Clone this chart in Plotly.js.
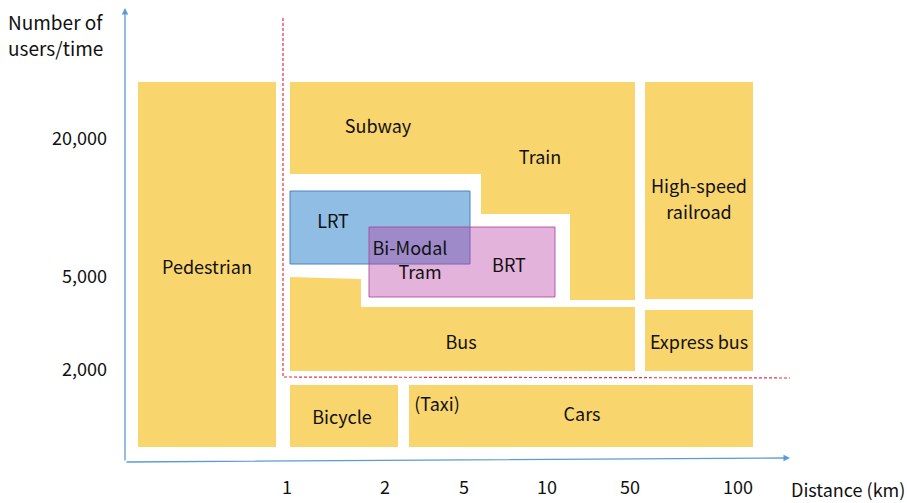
<!DOCTYPE html>
<html><head><meta charset="utf-8">
<script src="https://cdn.plot.ly/plotly-3.0.1.min.js"></script>
<style>html,body{margin:0;padding:0;background:#fff}#chart{width:907px;height:503px}</style>
</head><body><div id="chart"></div>
<script>
// Axis tick categories and their positions on the diagram scale
const distanceLabels = ['1', '2', '5', '10', '50', '100'];
const distancePos = [287, 385, 464, 547, 630, 738];
const userLabels = ['20,000', '5,000', '2,000'];
const userPos = [139, 277, 370];

// Transport mode regions (diagram scale)
const modeNames = ['Pedestrian', 'Subway/Train', 'High-speed railroad', 'Bus', 'Express bus', 'Bicycle', 'Cars'];
const modeX = [
  [138, 276, 276, 138],
  [290, 635, 635, 570, 570, 481, 481, 290],
  [645, 753, 753, 645],
  [290, 361, 361, 635, 635, 290],
  [645, 753, 753, 645],
  [290, 398, 398, 290],
  [409, 753, 753, 409]
];
const modeY = [
  [82, 82, 447, 447],
  [82, 82, 300, 300, 214, 214, 174, 174],
  [82, 82, 299, 299],
  [277, 279, 307, 307, 371, 371],
  [310, 310, 371, 371],
  [385, 385, 447, 447],
  [385, 385, 447, 447]
];
const lrtX = [290, 470, 470, 290];
const lrtY = [191, 191, 264, 264];
const brtX = [369, 555, 555, 369];
const brtY = [227, 227, 297, 297];

// Labels (one entry per text line)
const labelText = ['Pedestrian', 'Subway', 'Train', 'High-speed', 'railroad', 'LRT', 'Bi-Modal', 'Tram', 'BRT', 'Bus', 'Express bus', 'Bicycle', '(Taxi)', 'Cars'];
const labelX = [207, 378, 540, 699, 699, 333, 410, 420, 509, 461, 699, 342, 437, 582];
const labelY = [269, 128, 159, 188, 214, 223, 250, 274, 267, 344, 344, 419, 406, 416];

// Threshold (dashed) lines
const thresholdX = [283, 283, 790];
const thresholdY = [18, 377, 378];

const FONT = 'Noto Sans CJK KR, Noto Sans, sans-serif';
const FS = 18;
const traces = [];
modeNames.forEach((n, i) => {
  traces.push({
    type: 'scatter', mode: 'lines', x: modeX[i].concat([modeX[i][0]]), y: modeY[i].concat([modeY[i][0]]),
    fill: 'toself', fillcolor: '#F9D56E', line: {width: 0, color: '#F9D56E'}, name: n, hoverinfo: 'name'
  });
});
traces.push({type: 'scatter', mode: 'lines', x: lrtX.concat([lrtX[0]]), y: lrtY.concat([lrtY[0]]),
  fill: 'toself', fillcolor: 'rgb(143,189,227)', line: {width: 1, color: 'rgb(80,130,190)'}, name: 'LRT', hoverinfo: 'name'});
traces.push({type: 'scatter', mode: 'lines', x: brtX.concat([brtX[0]]), y: brtY.concat([brtY[0]]),
  fill: 'toself', fillcolor: 'rgba(185,55,160,0.38)', line: {width: 1, color: 'rgba(170,60,150,0.8)'}, name: 'BRT', hoverinfo: 'name'});
traces.push({type: 'scatter', mode: 'lines', x: thresholdX, y: thresholdY,
  line: {color: '#E8303F', width: 1.2, dash: '3px,2px'}, hoverinfo: 'skip'});
traces.push({type: 'scatter', mode: 'text', x: labelX, y: labelY, text: labelText,
  textfont: {family: FONT, size: FS, color: '#111'}, hoverinfo: 'skip'});

const layout = {
  width: 907, height: 503, showlegend: false,
  paper_bgcolor: '#fff', plot_bgcolor: '#fff',
  margin: {l: 108, r: 0, t: 0, b: 28},
  xaxis: {range: [108, 907], showgrid: false, zeroline: false, showline: false, ticks: '',
    tickvals: distancePos, ticktext: distanceLabels, tickfont: {family: FONT, size: FS, color: '#111'}, fixedrange: true},
  yaxis: {range: [475, 0], showgrid: false, zeroline: false, showline: false, ticks: '',
    tickvals: userPos, ticktext: userLabels, tickfont: {family: FONT, size: FS, color: '#111'}, fixedrange: true},
  annotations: [
    {xref: 'x', yref: 'y', axref: 'x', ayref: 'y', x: 125, y: 8, ax: 125, ay: 462, showarrow: true,
      arrowhead: 2, arrowsize: 1, arrowwidth: 1.3, arrowcolor: '#5B9BD5', text: ''},
    {xref: 'x', yref: 'y', axref: 'x', ayref: 'y', x: 790, y: 458, ax: 125, ay: 462, showarrow: true,
      arrowhead: 2, arrowsize: 1, arrowwidth: 1.3, arrowcolor: '#5B9BD5', text: ''},
    {xref: 'paper', yref: 'paper', x: -0.004, y: 1.0, xanchor: 'right', yanchor: 'middle', showarrow: false,
      text: 'Number of', font: {family: FONT, size: 19, color: '#111'}, yshift: -21},
    {xref: 'paper', yref: 'paper', x: -0.004, y: 1.0, xanchor: 'right', yanchor: 'middle', showarrow: false,
      text: 'users/time', font: {family: FONT, size: 19, color: '#111'}, yshift: -47},
    {xref: 'paper', yref: 'paper', x: 1, y: 0, xanchor: 'right', yanchor: 'top', showarrow: false,
      text: 'Distance (km)', font: {family: FONT, size: FS, color: '#111'}, yshift: 1}
  ]
};
Plotly.newPlot('chart', traces, layout, {displayModeBar: false, staticPlot: true});
</script></body></html>
